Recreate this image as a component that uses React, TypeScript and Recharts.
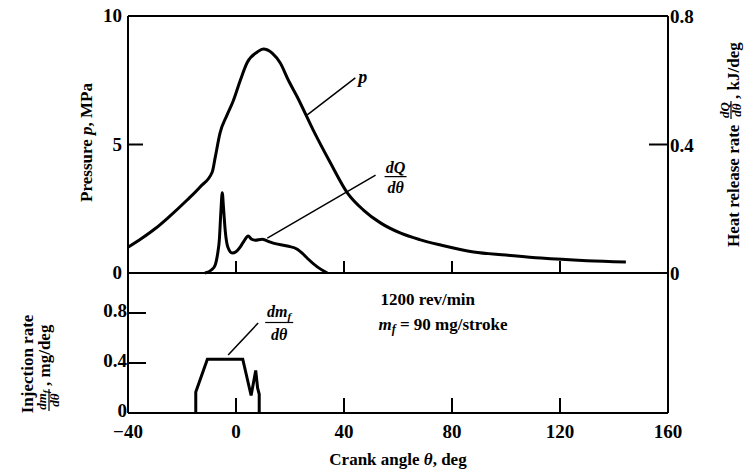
import React from "react";
import {
  Line,
  LineChart,
  ReferenceDot,
  ReferenceLine,
  XAxis,
  YAxis,
} from "recharts";

// crank angle, deg  /  cylinder pressure, MPa
const pressureAngle = [
  -40, -35, -30, -25.5, -18.1, -13.3, -8.8, -7.7, -5.9, -3.3, -1, 1.6, 4.2,
  7.9, 10.1, 13.4, 16.4, 19.4, 22.7, 28.6, 35, 41.3, 47.2, 53.5, 61, 68, 75.8,
  88, 100, 112.9, 130, 144.4,
];
const pressureMPa = [
  1.0, 1.34, 1.72, 2.12, 2.84, 3.35, 3.93, 4.5, 5.45, 6.15, 6.7, 7.5, 8.2, 8.6,
  8.72, 8.56, 8.17, 7.5, 6.85, 5.56, 4.28, 3.11, 2.45, 1.95, 1.55, 1.3, 1.09,
  0.82, 0.7, 0.58, 0.48, 0.43,
];

// heat release rate, kJ/deg
const heatAngle = [
  -11.5, -9, -7.7, -6.8, -6.2, -5.6, -5.1, -4.6, -4, -3, -1.4, 0, 1.6, 3, 4.5,
  5.8, 7.1, 9.7, 11.5, 13.8, 19, 22.7, 24.5, 26.4, 30.1, 33.8,
];
const heatRate = [
  0, 0.01, 0.025, 0.06, 0.1, 0.19, 0.25, 0.2, 0.133, 0.08, 0.062, 0.066, 0.081,
  0.1, 0.115, 0.105, 0.102, 0.105, 0.1, 0.093, 0.084, 0.074, 0.062, 0.046,
  0.019, 0,
];

// injection rate, mg/deg
const injectionAngle = [-14.9, -14.9, -10.6, 2.5, 5.6, 7.3, 8.0, 8.6, 8.6];
const injectionRate = [0, 0.167, 0.43, 0.43, 0.14, 0.34, 0.2, 0.15, 0];

const angleTicks = [-40, 0, 40, 80, 120, 160];
const pressureTicks = [0, 5, 10];
const heatTicks = [0, 0.4, 0.8];
const injectionTicks = [0, 0.4, 0.8];

const toRows = (xs: number[], ys: number[]) =>
  xs.map((x, i) => ({ x, y: ys[i] }));

const pressureData = toRows(pressureAngle, pressureMPa);
const heatData = toRows(heatAngle, heatRate);
const injectionData = toRows(injectionAngle, injectionRate);

const FONT = '"Liberation Serif", "Times New Roman", serif';
const txt: React.CSSProperties = {
  fontFamily: FONT,
  fontWeight: "bold",
  fontSize: 17,
  fill: "#000",
};
const fmt = (v: number) => (v < 0 ? "\u2212" + Math.abs(v) : String(v));

type TickSpec = {
  side: "left" | "right" | "bottom";
  marks: number[];
  len: number;
  gap: number;
  label: boolean;
  dy: number;
};

// ticks in this figure point into the plot, so draw them ourselves
const tickRenderer = (s: TickSpec) => (props: any) => {
  const { x, y, payload } = props;
  const v = payload.value as number;
  const mark = s.marks.includes(v);
  const size = 19;
  if (s.side === "left") {
    const ax = x + 8;
    return (
      <g>
        {mark && <line x1={ax} y1={y} x2={ax + s.len} y2={y} stroke="#000" strokeWidth={2} />}
        {s.label && (
          <text x={ax - s.gap} y={y + s.dy} textAnchor="end" style={{ ...txt, fontSize: size }}>
            {fmt(v)}
          </text>
        )}
      </g>
    );
  }
  if (s.side === "right") {
    const ax = x - 8;
    return (
      <g>
        {mark && <line x1={ax} y1={y} x2={ax - s.len} y2={y} stroke="#000" strokeWidth={2} />}
        {s.label && (
          <text x={ax + s.gap} y={y + s.dy} textAnchor="start" style={{ ...txt, fontSize: size }}>
            {fmt(v)}
          </text>
        )}
      </g>
    );
  }
  const ay = y - 8;
  return (
    <g>
      {mark && <line x1={x} y1={ay} x2={x} y2={ay - s.len} stroke="#000" strokeWidth={2} />}
      {s.label && (
        <text x={x} y={ay + s.dy} textAnchor="middle" style={{ ...txt, fontSize: size }}>
          {fmt(v)}
        </text>
      )}
    </g>
  );
};

const Fraction = ({
  cx,
  cy,
  num,
  sub,
  size,
  w,
  gapUp,
  gapDown,
}: {
  cx: number;
  cy: number;
  num: string;
  sub?: string;
  size: number;
  w: number;
  gapUp: number;
  gapDown: number;
}) => (
  <g>
    <text
      x={cx}
      y={cy - gapUp}
      textAnchor="middle"
      style={{ ...txt, fontSize: size, fontStyle: "italic" }}
    >
      {num}
      {sub && (
        <tspan fontSize={size * 0.7} dy={3}>
          {sub}
        </tspan>
      )}
    </text>
    <line x1={cx - w / 2} x2={cx + w / 2} y1={cy} y2={cy} stroke="#000" strokeWidth={1.2} />
    <text
      x={cx}
      y={cy + gapDown}
      textAnchor="middle"
      style={{ ...txt, fontSize: size, fontStyle: "italic" }}
    >
      d{"\u03b8"}
    </text>
  </g>
);

const axisLine = { stroke: "#000", strokeWidth: 2 };
const curve = { stroke: "#000", strokeWidth: 3, dot: false, isAnimationActive: false };

export default function App() {
  return (
    <div
      style={{
        position: "absolute",
        left: 0,
        top: 0,
        width: 745,
        height: 471,
        background: "#fff",
      }}
    >
      <div style={{ position: "absolute", left: 0, top: 0 }}>
        <LineChart width={745} height={290} margin={{ top: 16, right: 17, bottom: 0, left: 68 }}>
          <XAxis
            type="number"
            dataKey="x"
            domain={[-40, 160]}
            ticks={angleTicks}
            interval={0}
            height={17}
            axisLine={axisLine}
            tickLine={false}
            tickSize={6}
            tickMargin={2}
            tick={tickRenderer({ side: "bottom", marks: [0, 40, 80, 120], len: 12, gap: 0, label: false, dy: 0 })}
          />
          <YAxis
            yAxisId="p"
            type="number"
            domain={[0, 10]}
            ticks={pressureTicks}
            interval={0}
            width={60}
            axisLine={axisLine}
            tickLine={false}
            tickSize={6}
            tickMargin={2}
            tick={tickRenderer({ side: "left", marks: [5], len: 15, gap: 6, label: true, dy: 6 })}
            label={{
              content: (p: any) => {
                const vb = p.viewBox;
                const cx = vb.x + 24;
                const cy = vb.y + vb.height / 2 - 2;
                return (
                  <text
                    transform={`translate(${cx},${cy}) rotate(-90)`}
                    textAnchor="middle"
                    style={txt}
                  >
                    Pressure <tspan fontStyle="italic">p</tspan>, MPa
                  </text>
                );
              },
            }}
          />
          <YAxis
            yAxisId="q"
            orientation="right"
            type="number"
            domain={[0, 0.8]}
            ticks={heatTicks}
            interval={0}
            width={60}
            axisLine={axisLine}
            tickLine={false}
            tickSize={6}
            tickMargin={2}
            tick={tickRenderer({ side: "right", marks: [0.4], len: 19, gap: 2, label: true, dy: 7 })}
            label={{
              content: (p: any) => {
                const vb = p.viewBox;
                const bx = vb.x + 71;
                const by = vb.y + 231;
                return (
                  <g transform={`translate(${bx},${by}) rotate(-90)`}>
                    <text x={0} y={0} style={txt}>
                      Heat release rate
                    </text>
                    <Fraction cx={137} cy={-8} num="dQ" size={13} w={18} gapUp={2} gapDown={10} />
                    <text x={148} y={0} style={txt}>
                      , kJ/deg
                    </text>
                  </g>
                );
              },
            }}
          />
          <ReferenceLine yAxisId="p" y={10} stroke="#000" strokeWidth={2} />
          <Line yAxisId="p" data={pressureData} dataKey="y" type="monotone" {...curve} />
          <Line yAxisId="q" data={heatData} dataKey="y" type="monotone" {...curve} />
          <ReferenceLine
            yAxisId="p"
            segment={[
              { x: 26.4, y: 6.15 },
              { x: 44.2, y: 7.59 },
            ]}
            stroke="#000"
            strokeWidth={1.5}
          />
          <ReferenceDot
            yAxisId="p"
            x={45.3}
            y={7.39}
            r={0}
            shape={(p: any) => (
              <text x={p.cx} y={p.cy} style={{ ...txt, fontSize: 18, fontStyle: "italic" }}>
                p
              </text>
            )}
          />
          <ReferenceLine
            yAxisId="p"
            segment={[
              { x: 11.6, y: 1.36 },
              { x: 51.7, y: 3.81 },
            ]}
            stroke="#000"
            strokeWidth={1.5}
          />
          <ReferenceDot
            yAxisId="p"
            x={59.1}
            y={3.75}
            r={0}
            shape={(p: any) => (
              <Fraction cx={p.cx} cy={p.cy} num="dQ" size={16} w={22} gapUp={4} gapDown={16} />
            )}
          />
        </LineChart>
      </div>

      <div style={{ position: "absolute", left: 0, top: 263 }}>
        <LineChart width={745} height={208} margin={{ top: 10, right: 77, bottom: 28, left: 68 }}>
          <XAxis
            type="number"
            dataKey="x"
            domain={[-40, 160]}
            ticks={angleTicks}
            interval={0}
            height={30}
            axisLine={axisLine}
            tickLine={false}
            tickSize={6}
            tickMargin={2}
            tick={tickRenderer({ side: "bottom", marks: [0, 40, 80, 120], len: 15, gap: 0, label: true, dy: 25 })}
            label={{
              content: (p: any) => {
                const vb = p.viewBox;
                return (
                  <text x={vb.x + vb.width / 2} y={vb.y + 52} textAnchor="middle" style={txt}>
                    Crank angle <tspan fontStyle="italic">{"\u03b8"}</tspan>, deg
                  </text>
                );
              },
            }}
          />
          <YAxis
            type="number"
            domain={[0, 1.12]}
            ticks={injectionTicks}
            interval={0}
            width={60}
            axisLine={axisLine}
            tickLine={false}
            tickSize={6}
            tickMargin={2}
            tick={tickRenderer({ side: "left", marks: [0.4, 0.8], len: 18, gap: 1, label: true, dy: 4 })}
            label={{
              content: (p: any) => {
                const vb = p.viewBox;
                const x1 = vb.x - 35;
                const y1 = vb.y + 91;
                const x2 = vb.x - 18;
                const y2 = vb.y + 139;
                return (
                  <g>
                    <text
                      transform={`translate(${x1},${y1}) rotate(-90)`}
                      textAnchor="middle"
                      style={txt}
                    >
                      Injection rate
                    </text>
                    <g transform={`translate(${x2},${y2}) rotate(-90)`}>
                      <Fraction cx={12} cy={-1} num="dm" sub="f" size={13} w={22} gapUp={3} gapDown={10} />
                      <text x={26} y={0} style={txt}>
                        , mg/deg
                      </text>
                    </g>
                  </g>
                );
              },
            }}
          />
          <ReferenceLine x={160} stroke="#000" strokeWidth={2} />
          <Line data={injectionData} dataKey="y" type="linear" {...curve} />
          <ReferenceLine
            segment={[
              { x: -2.9, y: 0.464 },
              { x: 8.2, y: 0.72 },
            ]}
            stroke="#000"
            strokeWidth={1.5}
          />
          <ReferenceDot
            x={16.0}
            y={0.724}
            r={0}
            shape={(p: any) => (
              <Fraction cx={p.cx} cy={p.cy} num="dm" sub="f" size={16} w={28} gapUp={6} gapDown={17} />
            )}
          />
          <ReferenceDot
            x={53.5}
            y={0.864}
            r={0}
            shape={(p: any) => (
              <g>
                <text x={p.cx} y={p.cy} style={txt}>
                  1200 rev/min
                </text>
                <text x={p.cx - 2} y={p.cy + 25} style={txt}>
                  <tspan fontStyle="italic">m</tspan>
                  <tspan fontStyle="italic" fontSize={12} dy={3}>
                    f
                  </tspan>
                  <tspan dy={-3}> = 90 mg/stroke</tspan>
                </text>
              </g>
            )}
          />
        </LineChart>
      </div>
    </div>
  );
}
